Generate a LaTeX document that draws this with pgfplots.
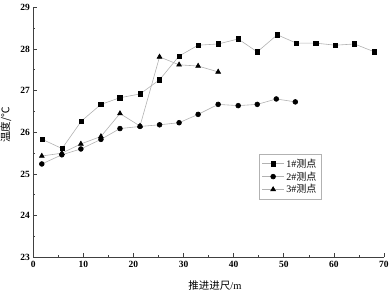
\documentclass[border=0pt]{standalone}
\usepackage{fontspec}
\setmainfont{Liberation Serif}
\newfontfamily\cjk{Noto Sans CJK SC}
\usepackage{pgfplots}
\pgfplotsset{compat=1.18}
\begin{document}
\begin{tikzpicture}[x=1pt,y=1pt]
\useasboundingbox (-33.3,-36.7) rectangle (358.7,257.3);
\begin{axis}[
  at={(0,0)}, anchor=origin,
  scale only axis, width=350.7pt, height=250pt,
  xmin=0, xmax=70, ymin=23, ymax=29,
  axis lines=left, axis line style={-, line width=0.8pt, black!75},
  xtick={0,10,...,70}, ytick={23,24,...,29},
  minor xtick={5,15,...,65}, minor ytick={23.5,24.5,...,28.5},
  tick align=inside, major tick length=4pt, minor tick length=2pt,
  tick style={black!75, line width=0.6pt},
  ticklabel style={font=\fontsize{9.5}{10}\selectfont\bfseries},
  /pgf/number format/assume math mode=true,
  xlabel={\cjk 推进进尺\rmfamily/m},
  ylabel={\cjk 温度/℃},
  label style={font=\fontsize{10.5}{12}\selectfont},
  xlabel style={at={(axis description cs:0.518,-0.111)}, anchor=center},
  ylabel style={at={(axis description cs:-0.078,0.53)}, anchor=center},
  legend style={at={(axis description cs:0.644,0.413)}, anchor=north west, draw=black!30, font=\fontsize{10}{12}\selectfont, row sep=-1pt, inner sep=2.5pt},
  legend cell align=left,
  legend image code/.code={\draw[mark repeat=2,mark phase=2] plot coordinates {(0pt,0pt) (11pt,0pt) (22pt,0pt)};},
]
\addplot[line width=0.6pt, gray!60, mark=square*, mark size=2.2pt, mark options={black, fill=black}] coordinates {
(1.8,25.83) (5.74,25.61) (9.6,26.27) (13.5,26.67) (17.3,26.83) (21.3,26.92) (25.2,27.26) (29.1,27.83) (32.9,28.09) (36.9,28.12) (40.9,28.24) (44.7,27.93) (48.7,28.34) (52.5,28.14) (56.4,28.14) (60.3,28.09) (64.1,28.12) (68.1,27.93)};
\addlegendentry{1\#{\cjk 测点}}
\addplot[line width=0.6pt, gray!60, mark=*, mark size=2.4pt, mark options={black, fill=black}] coordinates {
(1.7,25.24) (5.7,25.46) (9.5,25.60) (13.5,25.83) (17.3,26.09) (21.3,26.14) (25.2,26.18) (29.1,26.23) (32.9,26.43) (36.9,26.67) (40.9,26.64) (44.7,26.67) (48.5,26.80) (52.3,26.73)};
\addlegendentry{2\#{\cjk 测点}}
\addplot[line width=0.6pt, gray!60, mark=triangle*, mark size=2.8pt, mark options={black, fill=black}] coordinates {
(1.7,25.43) (5.7,25.50) (9.5,25.72) (13.5,25.90) (17.3,26.45) (21.3,26.15) (25.2,27.81) (29.1,27.62) (32.9,27.59) (36.9,27.45)};
\addlegendentry{3\#{\cjk 测点}}
\end{axis}
\end{tikzpicture}
\end{document}
